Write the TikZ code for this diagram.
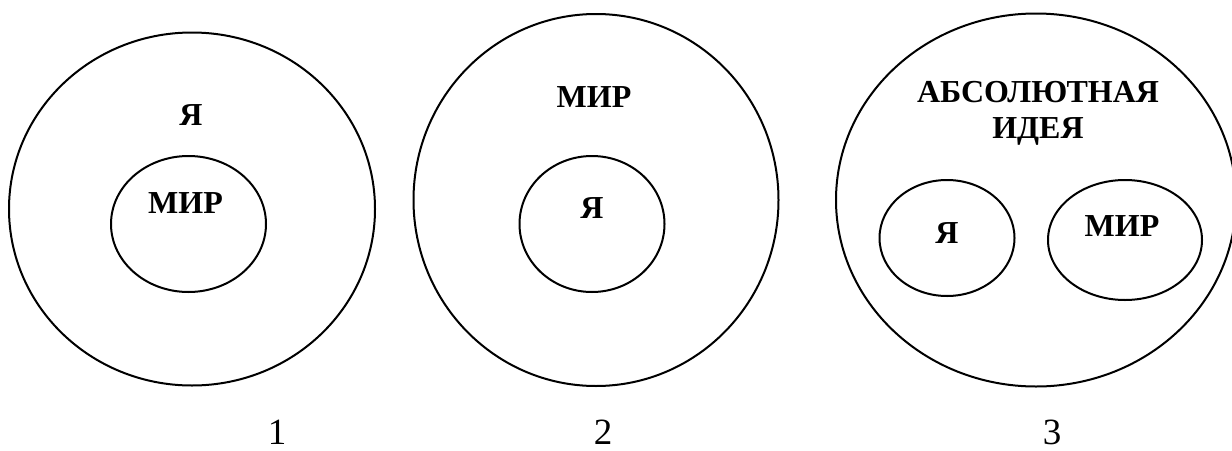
\documentclass[tikz,border=0pt]{standalone}
\usepackage{fontspec}
\setmainfont{Liberation Serif}
\usetikzlibrary{shapes.geometric}
\tikzset{
  oval/.style={draw, ellipse, line width=1pt, inner sep=0pt},
  word/.style={font=\fontsize{16}{18}\selectfont\bfseries, align=center, inner sep=0pt},
  num/.style={font=\fontsize{18.5}{22}\selectfont, inner sep=0pt, anchor=base}
}
\begin{document}
\begin{tikzpicture}[x=0.5pt, y=-0.5pt]
    \clip (0, 0) rectangle (1232, 450);
    \useasboundingbox (0, 0) rectangle (1232, 450);
    \node[oval, minimum width=183pt, minimum height=176.5pt] (outerA) at (192, 209) {};
    \node[oval, minimum width=77.5pt, minimum height=68pt] (innerA) at (188.5, 224) {};
    \node[word] (selfA) at (191, 115) {Я};
    \node[word] (worldA) at (185.5, 203) {МИР};
    \node[num] (numA) at (277, 444) {1};
    \node[oval, minimum width=182.5pt, minimum height=186pt] (outerB) at (596, 200) {};
    \node[oval, minimum width=72.5pt, minimum height=68pt] (innerB) at (592, 224) {};
    \node[word] (worldB) at (594, 97) {МИР};
    \node[word] (selfB) at (592, 208) {Я};
    \node[num] (numB) at (603, 444) {2};
    \node[oval, minimum width=200pt, minimum height=186.5pt] (outerC) at (1036, 200) {};
    \node[oval, minimum width=67.5pt, minimum height=58pt] (innerC) at (947, 238) {};
    \node[oval, minimum width=77pt, minimum height=60pt] (otherC) at (1125, 240) {};
    \node[word] (ideaC) at (1038, 113) {АБСОЛЮТНАЯ\\ИДЕЯ};
    \node[word] (selfC) at (947, 233) {Я};
    \node[word] (worldC) at (1122, 226) {МИР};
    \node[num] (numC) at (1052, 444) {3};
\end{tikzpicture}
\end{document}
